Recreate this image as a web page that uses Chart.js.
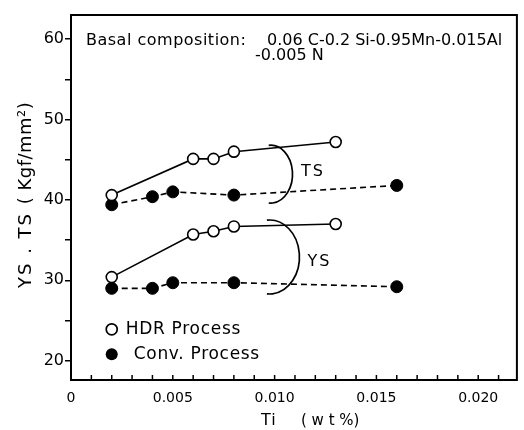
<!DOCTYPE html>
<html>
<head>
<meta charset="utf-8">
<script src="https://cdn.jsdelivr.net/npm/chart.js@4.4.0/dist/chart.umd.min.js"></script>
<style>
  body { margin: 0; background: #fff; }
  #wrap { width: 524px; height: 430px; }
</style>
</head>
<body>
<div id="wrap"><canvas id="tiChart" width="524" height="430"></canvas></div>
<script>
// Ti content (wt %) and strengths (kgf/mm2)
const tiHdr = [0.002, 0.006, 0.007, 0.008, 0.013];
const tsHdr = [40.6, 45.1, 45.1, 46.0, 47.2];
const ysHdr = [30.4, 35.7, 36.1, 36.7, 37.0];
const tiConv = [0.002, 0.004, 0.005, 0.008, 0.016];
const tsConv = [39.4, 40.4, 41.0, 40.6, 41.8];
const ysConv = [29.0, 29.0, 29.7, 29.7, 29.2];

const xTicks = [0, 0.001, 0.002, 0.003, 0.004, 0.005, 0.006, 0.007, 0.008, 0.009, 0.010,
                0.011, 0.012, 0.013, 0.014, 0.015, 0.016, 0.017, 0.018, 0.019, 0.020, 0.021];
const xLabels = { 0: '0', 0.005: '0.005', 0.01: '0.010', 0.015: '0.015', 0.02: '0.020' };
const yTicks = [20, 25, 30, 35, 40, 45, 50, 55, 60];

// bracket arcs (half ellipses): centre and radii in data units, plus label position
const brackets = [
    { c: [0.00981, 43.2], r: [0.00107, 3.6], label: 'TS', at: [0.0113, 43.5] },
    { c: [0.00976, 32.9], r: [0.00146, 4.6], label: 'YS', at: [0.01161, 32.3] }
];

const FONT = '"DejaVu Sans", sans-serif';

function pairs(xs, ys) {
    return xs.map((x, i) => ({ x: x, y: ys[i] }));
}

const hdrStyle = {
    showLine: true, borderColor: '#000', borderWidth: 1.6,
    pointBackgroundColor: '#fff', pointBorderColor: '#000', pointBorderWidth: 1.6,
    pointRadius: 5.5
};
const convStyle = {
    showLine: true, borderColor: '#000', borderWidth: 1.6, borderDash: [6, 4],
    pointBackgroundColor: '#000', pointBorderColor: '#000', pointBorderWidth: 1,
    pointRadius: 6
};

const extras = {
    id: 'extras',
    afterDraw(chart) {
        const ctx = chart.ctx;
        const a = chart.chartArea;
        const xs = chart.scales.x, ys = chart.scales.y;
        ctx.save();
        ctx.strokeStyle = '#000';
        ctx.fillStyle = '#000';

        // frame
        ctx.lineWidth = 2;
        ctx.strokeRect(a.left, a.top, a.right - a.left, a.bottom - a.top);

        // inward x ticks
        ctx.lineWidth = 1.5;
        xTicks.forEach(v => {
            const px = xs.getPixelForValue(v);
            ctx.beginPath();
            ctx.moveTo(px, a.bottom);
            ctx.lineTo(px, a.bottom - 5);
            ctx.stroke();
        });

        // brackets
        ctx.lineWidth = 1.7;
        ctx.font = '16px ' + FONT;
        ctx.letterSpacing = '2px';
        ctx.textBaseline = 'middle';
        ctx.textAlign = 'left';
        brackets.forEach(b => {
            const cx = xs.getPixelForValue(b.c[0]);
            const cy = ys.getPixelForValue(b.c[1]);
            const rx = xs.getPixelForValue(b.c[0] + b.r[0]) - cx;
            const ry = cy - ys.getPixelForValue(b.c[1] + b.r[1]);
            ctx.beginPath();
            ctx.ellipse(cx, cy, rx, ry, 0, -Math.PI * 0.53, Math.PI * 0.53);
            ctx.stroke();
            ctx.fillText(b.label, xs.getPixelForValue(b.at[0]), ys.getPixelForValue(b.at[1]));
        });

        // composition note
        ctx.font = '16px ' + FONT;
        ctx.letterSpacing = '0.5px';
        ctx.fillText('Basal composition:', a.left + 15, 41);
        ctx.letterSpacing = '0px';
        ctx.fillText('0.06 C-0.2 Si-0.95Mn-0.015Al', 267, 41);
        ctx.fillText('-0.005 N', 255, 56);

        // legend
        const lx = xs.getPixelForValue(0.002);
        ctx.font = '17px ' + FONT;
        ctx.letterSpacing = '0.7px';
        ctx.beginPath();
        ctx.arc(lx, ys.getPixelForValue(23.9), 5.5, 0, Math.PI * 2);
        ctx.fillStyle = '#fff';
        ctx.fill();
        ctx.stroke();
        ctx.fillStyle = '#000';
        ctx.fillText('HDR Process', lx + 14, ys.getPixelForValue(23.9));
        ctx.beginPath();
        ctx.arc(lx, ys.getPixelForValue(20.8), 6, 0, Math.PI * 2);
        ctx.fill();
        ctx.fillText('Conv. Process', lx + 22, ys.getPixelForValue(20.8));

        // axis titles
        ctx.font = '16px ' + FONT;
        ctx.letterSpacing = '1px';
        ctx.textAlign = 'left';
        ctx.fillText('Ti', 261, 421);
        ctx.letterSpacing = '0px';
        ctx.font = '15px ' + FONT;
        ctx.fillText('( w t %)', 301, 421);
        ctx.translate(26, 0);
        ctx.rotate(-Math.PI / 2);
        ctx.textAlign = 'center';
        ctx.font = '18px ' + FONT;
        ctx.letterSpacing = '0.5px';
        ctx.fillText('( Kgf/mm\u00B2)', -153, 0);
        ctx.letterSpacing = '2px';
        ctx.fillText('YS . TS', -250, 0);
        ctx.restore();
    }
};

new Chart(document.getElementById('tiChart'), {
    type: 'scatter',
    data: {
        datasets: [
            Object.assign({ label: 'HDR TS', data: pairs(tiHdr, tsHdr) }, hdrStyle),
            Object.assign({ label: 'Conv TS', data: pairs(tiConv, tsConv) }, convStyle),
            Object.assign({ label: 'HDR YS', data: pairs(tiHdr, ysHdr) }, hdrStyle),
            Object.assign({ label: 'Conv YS', data: pairs(tiConv, ysConv) }, convStyle)
        ]
    },
    options: {
        responsive: false,
        animation: false,
        layout: { padding: { top: 15, right: 2, left: 0, bottom: 0 } },
        plugins: {
            legend: { display: false },
            tooltip: { enabled: false }
        },
        scales: {
            x: {
                type: 'linear',
                min: 0,
                max: 0.0219,
                afterBuildTicks: s => { s.ticks = xTicks.map(v => ({ value: v })); },
                afterFit: s => { s.height = 50; },
                ticks: {
                    autoSkip: false,
                    maxRotation: 0,
                    padding: 10,
                    color: '#000',
                    font: { family: FONT, size: 14 },
                    callback: v => {
                        const k = Object.keys(xLabels).find(t => Math.abs(+t - v) < 1e-7);
                        return k !== undefined ? xLabels[k] : '';
                    }
                },
                grid: { drawOnChartArea: false, drawTicks: false },
                border: { display: false }
            },
            y: {
                type: 'linear',
                min: 17.6,
                max: 63,
                afterBuildTicks: s => { s.ticks = yTicks.map(v => ({ value: v })); },
                afterFit: s => { s.width = 71; },
                ticks: {
                    autoSkip: false,
                    padding: 1,
                    color: '#000',
                    font: { family: FONT, size: 16 },
                    callback: v => (v % 10 === 0 ? String(v) : '')
                },
                grid: { drawOnChartArea: false, drawTicks: true, tickLength: 6, color: '#000', lineWidth: 1.5 },
                border: { display: false }
            }
        }
    },
    plugins: [extras]
});
</script>
</body>
</html>
